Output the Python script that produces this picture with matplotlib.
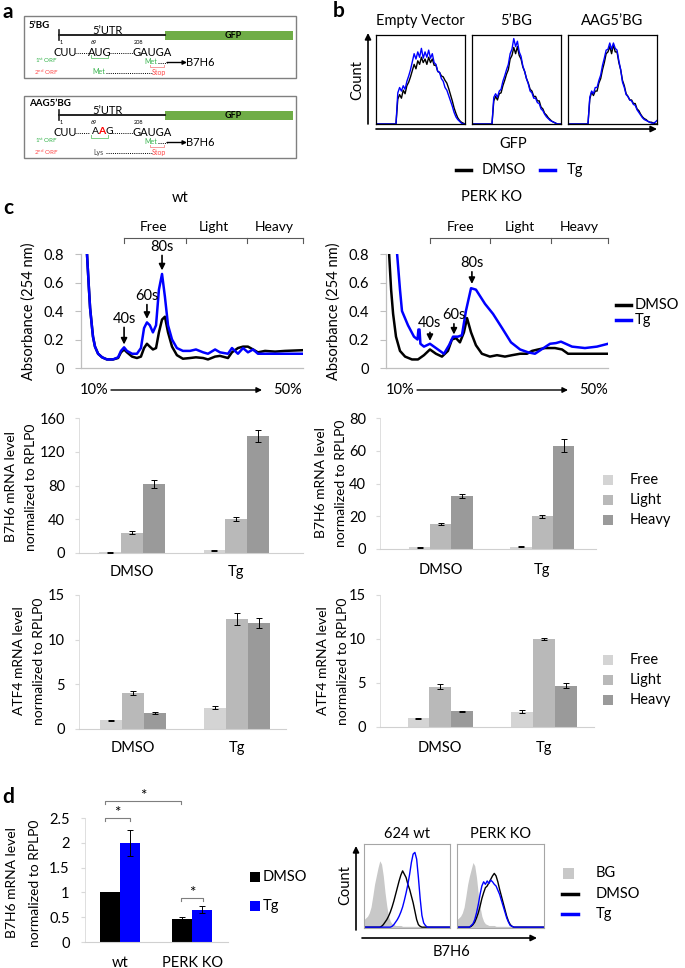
import matplotlib
matplotlib.use('Agg')
import matplotlib.pyplot as plt
from matplotlib.patches import Rectangle
import numpy as np

plt.rcParams['font.family'] = ['Lato', 'DejaVu Sans']
plt.rcParams['mathtext.default'] = 'regular'

# ---------------- DATA ----------------
# panel b : GFP histograms (50 bins), normalised height in box
gfp_bins = list(range(50))
ev_dmso = [0,0,0,0,0,0,0,0,0,0,0,0,0.28,0.33,0.29,0.38,0.34,0.43,0.47,0.53,0.6,0.67,0.62,0.71,0.67,0.75,0.69,0.73,0.67,0.75,0.69,0.73,0.66,0.66,0.59,0.58,0.54,0.53,0.49,0.46,0.4,0.33,0.26,0.18,0.12,0.07,0.04,0.02,0.01,0]
ev_tg = [0,0,0,0,0,0,0,0,0,0,0,0,0.35,0.41,0.37,0.43,0.39,0.48,0.54,0.61,0.7,0.79,0.73,0.81,0.75,0.85,0.74,0.81,0.75,0.83,0.74,0.79,0.69,0.67,0.59,0.58,0.51,0.48,0.41,0.38,0.32,0.26,0.2,0.13,0.08,0.05,0.03,0.01,0,0]
bg_dmso = [0,0,0,0,0,0,0,0,0,0,0,0,0.26,0.31,0.27,0.34,0.35,0.43,0.49,0.56,0.61,0.73,0.77,0.86,0.79,0.87,0.77,0.73,0.64,0.59,0.51,0.46,0.39,0.37,0.31,0.31,0.26,0.26,0.19,0.17,0.12,0.1,0.07,0.05,0.03,0.02,0.01,0,0,0]
bg_tg = [0,0,0,0,0,0,0,0,0,0,0,0,0.3,0.34,0.3,0.37,0.39,0.48,0.54,0.61,0.67,0.79,0.84,0.96,0.87,0.93,0.81,0.76,0.65,0.59,0.51,0.45,0.37,0.35,0.29,0.29,0.24,0.23,0.17,0.15,0.11,0.08,0.06,0.04,0.03,0.02,0.01,0,0,0]
aag_dmso = [0,0,0,0,0,0,0,0,0,0,0,0,0.28,0.36,0.32,0.37,0.37,0.46,0.51,0.61,0.69,0.79,0.81,0.87,0.79,0.89,0.81,0.81,0.69,0.61,0.49,0.43,0.34,0.31,0.27,0.27,0.23,0.23,0.17,0.15,0.11,0.08,0.06,0.05,0.03,0.02,0.02,0.01,0,0]
aag_tg = [0,0,0,0,0,0,0,0,0,0,0,0,0.3,0.37,0.34,0.41,0.41,0.49,0.55,0.66,0.74,0.83,0.84,0.91,0.84,0.91,0.85,0.83,0.71,0.61,0.47,0.41,0.33,0.31,0.27,0.26,0.22,0.21,0.16,0.13,0.1,0.07,0.05,0.04,0.03,0.02,0.01,0.01,0.02,0.04]
gfp_titles = ["Empty Vector", "5\u2019BG", "AAG5\u2019BG"]

# panel c : polysome profiles (position along gradient in %, absorbance)
wt_pos = [2.7,3.6,4.1,5.0,5.4,6.3,7.7,9.5,11.7,14.4,16.7,18.0,19.4,20.7,23.0,25.2,27.0,28.4,29.7,31.0,32.4,33.8,35.1,36.5,37.8,39.2,41.0,43.2,45.9,49.1,51.8,55.0,57.2,60.4,62.6,66.2,68.0,70.7,73.0,75.2,77.5,79.7,82.9,87.4,91.9,100]
wt_tg = [0.8,0.55,0.42,0.28,0.22,0.15,0.1,0.075,0.06,0.06,0.075,0.12,0.145,0.12,0.1,0.1,0.14,0.28,0.32,0.3,0.25,0.3,0.55,0.66,0.5,0.3,0.2,0.14,0.12,0.12,0.13,0.11,0.1,0.13,0.11,0.1,0.14,0.1,0.14,0.11,0.13,0.1,0.1,0.1,0.1,0.1]
wt_dmso = [0.8,0.55,0.42,0.28,0.22,0.15,0.1,0.075,0.06,0.06,0.07,0.11,0.13,0.11,0.08,0.07,0.08,0.14,0.17,0.15,0.13,0.14,0.25,0.34,0.36,0.25,0.15,0.09,0.065,0.07,0.075,0.07,0.06,0.08,0.085,0.07,0.11,0.14,0.15,0.15,0.13,0.11,0.12,0.115,0.12,0.125]
ko_dmso_pos = [1.4,2.3,3.2,4.5,6.3,8.6,11.7,14.4,17.1,19.8,22.5,25.2,27.9,29.7,31.5,33.3,35.1,36.5,38.3,40.5,43.2,46.8,50.0,53.6,56.8,60.4,63.5,65.8,68.5,71.6,76.1,79.3,82.0,87.4,100]
ko_dmso = [0.8,0.55,0.38,0.22,0.12,0.08,0.06,0.06,0.09,0.13,0.1,0.08,0.12,0.2,0.21,0.18,0.25,0.35,0.25,0.16,0.1,0.08,0.09,0.08,0.09,0.1,0.1,0.12,0.13,0.14,0.14,0.13,0.1,0.1,0.1]
ko_tg_pos = [5.0,6.3,7.2,9.9,12.6,14.2,14.6,15.1,15.5,17.1,19.8,22.5,26.1,28.4,30.2,32.4,34.2,36.0,38.3,40.5,44.6,48.2,52.3,56.3,60.4,64.0,67.1,70.0,73.9,76.6,78.8,83.8,89.6,95.0,100]
ko_tg = [0.8,0.55,0.4,0.3,0.22,0.2,0.27,0.27,0.17,0.15,0.17,0.14,0.1,0.16,0.22,0.22,0.23,0.4,0.56,0.55,0.45,0.38,0.28,0.18,0.13,0.11,0.1,0.13,0.17,0.175,0.185,0.15,0.14,0.15,0.17]
c_yticks = [0, 0.2, 0.4, 0.6, 0.8]
c_yticklabels = ['0', '0.2', '0.4', '0.6', '0.8']
fractions = ['Free', 'Light', 'Heavy']

# panel c : qPCR bars
treatments = ['DMSO', 'Tg']
b7_wt_dmso, b7_wt_dmso_err = [1.0, 24, 82], [0.5, 1.5, 5]
b7_wt_tg, b7_wt_tg_err = [3.0, 40, 139], [0.8, 2.5, 7]
b7_ko_dmso, b7_ko_dmso_err = [1.0, 15.5, 32.5], [0.3, 0.6, 1.3]
b7_ko_tg, b7_ko_tg_err = [1.3, 20, 63], [0.3, 1.0, 4]
atf_wt_dmso, atf_wt_dmso_err = [1.0, 4.05, 1.75], [0.05, 0.25, 0.1]
atf_wt_tg, atf_wt_tg_err = [2.4, 12.3, 11.9], [0.15, 0.65, 0.55]
atf_ko_dmso, atf_ko_dmso_err = [1.0, 4.6, 1.8], [0.05, 0.25, 0.05]
atf_ko_tg, atf_ko_tg_err = [1.75, 10.0, 4.7], [0.15, 0.15, 0.25]
b7_wt_ticks, b7_ko_ticks = [0, 40, 80, 120, 160], [0, 20, 40, 60, 80]
atf_ticks = [0, 5, 10, 15]

# panel d
d_groups = ['wt', 'PERK KO']
d_dmso, d_dmso_err = [1.0, 0.47], [0.005, 0.04]
d_tg, d_tg_err = [2.0, 0.65], [0.26, 0.07]
d_ticks = [0, 0.5, 1, 1.5, 2, 2.5]
d_ticklabels = ['0', '0.5', '1', '1.5', '2', '2.5']
b7h6_bins = list(range(50))
wt_bg = [0.1,0.12,0.14,0.18,0.25,0.38,0.52,0.62,0.72,0.8,0.76,0.62,0.42,0.26,0.14,0.08,0.05,0.04,0.03,0.03,0.03,0.03,0.02,0.02,0.02,0.02,0.02,0.02,0.02,0.02,0.02,0.02,0.02,0.02,0.02,0.02,0.02,0.02,0.02,0.02,0.01,0.01,0.01,0.01,0.01,0.01,0.01,0.01,0.01,0.01]
wt_dm = [0.01,0.01,0.01,0.01,0.01,0.01,0.01,0.01,0.01,0.01,0.02,0.04,0.07,0.1,0.14,0.19,0.25,0.32,0.4,0.48,0.56,0.63,0.68,0.64,0.6,0.52,0.46,0.38,0.3,0.2,0.1,0.04,0.02,0.01,0.01,0.01,0.01,0.01,0.01,0.01,0.01,0.01,0.01,0.01,0.01,0.01,0.01,0.01,0.01,0.01]
wt_tgh = [0.01,0.01,0.01,0.01,0.01,0.01,0.01,0.01,0.01,0.01,0.01,0.01,0.01,0.01,0.01,0.01,0.02,0.04,0.07,0.1,0.14,0.19,0.25,0.33,0.42,0.52,0.64,0.78,0.88,0.9,0.82,0.6,0.35,0.15,0.06,0.03,0.01,0.01,0.01,0.01,0.01,0.01,0.01,0.01,0.01,0.01,0.01,0.01,0.01,0.01]
ko_bg = [0.1,0.12,0.14,0.18,0.25,0.38,0.52,0.62,0.7,0.78,0.74,0.6,0.4,0.25,0.14,0.08,0.05,0.04,0.03,0.03,0.03,0.03,0.02,0.02,0.02,0.02,0.02,0.02,0.02,0.02,0.02,0.02,0.02,0.02,0.02,0.02,0.02,0.02,0.02,0.02,0.01,0.01,0.01,0.01,0.01,0.01,0.01,0.01,0.01,0.01]
ko_dm = [0.01,0.01,0.01,0.01,0.01,0.01,0.01,0.01,0.02,0.04,0.07,0.12,0.18,0.26,0.35,0.42,0.48,0.5,0.54,0.58,0.62,0.65,0.62,0.55,0.46,0.38,0.3,0.22,0.14,0.08,0.04,0.02,0.01,0.01,0.01,0.01,0.01,0.01,0.01,0.01,0.01,0.01,0.01,0.01,0.01,0.01,0.01,0.01,0.01,0.01]
ko_tgh = [0.01,0.01,0.01,0.01,0.01,0.01,0.01,0.01,0.03,0.05,0.1,0.18,0.28,0.4,0.5,0.55,0.52,0.56,0.53,0.57,0.55,0.52,0.5,0.45,0.4,0.33,0.26,0.19,0.12,0.07,0.03,0.02,0.01,0.01,0.01,0.01,0.01,0.01,0.01,0.01,0.01,0.01,0.01,0.01,0.01,0.01,0.01,0.01,0.01,0.01]

# ---------------- STYLE ----------------
BLUE = '#0000FF'
FRAC_COLORS = ['#D4D4D4', '#B9B9B9', '#9A9A9A']
W, H = 685, 968
fig = plt.figure(figsize=(W / 100, H / 100), dpi=100)
renderer = fig.canvas.get_renderer()


def axpx(l, t, r, b):
    return fig.add_axes([l / W, 1 - b / H, (r - l) / W, (b - t) / H])


ov = fig.add_axes([0, 0, 1, 1], zorder=10)
ov.set_xlim(0, W)
ov.set_ylim(H, 0)
ov.axis('off')


def T(x, y, s, size=10, **kw):
    kw.setdefault('ha', 'center')
    kw.setdefault('va', 'center')
    return ov.text(x, y, s, fontsize=size, **kw)


def chain(x, y, parts, size):
    """place text pieces one after the other, starting at x"""
    for s, c, w in parts:
        t = ov.text(x, y, s, fontsize=size, color=c, fontweight=w, ha='left', va='center')
        bb = t.get_window_extent(renderer)
        x = ov.transData.inverted().transform((bb.x1, bb.y0))[0]


def arrow(x1, y1, x2, y2, lw=1.2, ms=9):
    ov.annotate('', xy=(x2, y2), xytext=(x1, y1),
                arrowprops=dict(arrowstyle='-|>', color='k', lw=lw,
                                mutation_scale=ms, shrinkA=0, shrinkB=0))


# ---------------- PANEL LABELS ----------------
for lab, x, y in [('a', 8, 12), ('b', 339, 11), ('c', 8, 208), ('d', 8, 797)]:
    T(x, y, lab, 15, fontweight='bold')

# ---------------- PANEL A ----------------
GREEN_T = '#33b24a'
GREEN_B = '#7dcf86'
RED_T = '#ff4a4a'
RED_B = '#f59a9a'


def dotted(x1, x2, y, color='k'):
    ov.plot([x1, x2], [y, y], color=color, lw=0.7, ls=(0, (1, 1.2)))


def ubracket(x1, x2, y, color, h=2.5):
    ov.plot([x1, x1, x2, x2], [y - h, y, y, y - h], color=color, lw=0.7)


for k, dy in enumerate([0, 80]):
    ov.add_patch(Rectangle((24, 16 + dy), 272, 62, fill=False, ec='#808080', lw=1))
    T(29, 25 + dy - (1 if k else 0), '5\u2019BG' if k == 0 else 'AAG5\u2019BG', 7,
      fontweight='bold', ha='left')
    ov.plot([59, 165], [35 + dy, 35 + dy], color='#222222', lw=1.4)
    ov.plot([59, 59], [30 + dy, 40 + dy], color='#222222', lw=1.2)
    T(107, 31 + dy, '5\u2019UTR', 8)
    ov.add_patch(Rectangle((165, 30.5 + dy), 128, 9.5, color='#70AD47', lw=0))
    T(233, 35.5 + dy, 'GFP', 6.5, fontweight='bold')
    T(61, 43 + dy, '1', 4)
    T(94, 43 + dy, '69', 4)
    T(139, 43 + dy, '208', 4)
    T(65.5, 52 + dy, 'CUU', 8)
    dotted(75, 89, 53 + dy)
    if k == 0:
        T(99.5, 52 + dy, 'AUG', 8)
    else:
        chain(91.5, 52 + dy, [('A', 'k', 'normal'), ('A', '#ff0000', 'bold'),
                              ('G', 'k', 'normal')], 7.5)
    dotted(110, 135, 53 + dy)
    T(152, 52 + dy, 'GAUGA', 8)
    ubracket(91, 108, 57.5 + dy, GREEN_B)
    T(35, 61 + dy, r'1$^{st}$ ORF', 4.5, color=GREEN_T, ha='left')
    T(151, 62 + dy, 'Met', 5, color=GREEN_T)
    dotted(158, 167, 62.5 + dy)
    arrow(167, 62.5 + dy, 187, 62.5 + dy, lw=1, ms=6)
    T(200, 62 + dy, 'B7H6', 8)
    ubracket(150, 164, 67 + dy, RED_B)
    T(34, 72 + dy, r'2$^{nd}$ ORF', 4.5, color=RED_T, ha='left')
    if k == 0:
        T(98.5, 72 + dy, 'Met', 5, color=GREEN_T)
    else:
        T(98, 72 + dy, 'Lys', 5, color='#444444')
    dotted(106, 152, 72.5 + dy)
    T(159, 72 + dy, 'Stop', 5, color=RED_T)

# ---------------- PANEL B ----------------
gfp_series = [(ev_dmso, ev_tg), (bg_dmso, bg_tg), (aag_dmso, aag_tg)]
for (l, r), title, (dm, tg) in zip([(376, 465), (472, 561), (568, 657)], gfp_titles, gfp_series):
    ax = axpx(l, 35, r, 124)
    ax.plot(gfp_bins, dm, color='k', lw=1.0)
    ax.plot(gfp_bins, tg, color=BLUE, lw=1.0)
    ax.set_xlim(0, 49)
    ax.set_ylim(0, 1)
    ax.set_xticks([])
    ax.set_yticks([])
    for s in ax.spines.values():
        s.set_linewidth(0.9)
    T((l + r) / 2, 21, title, 10.5)
arrow(368, 124, 368, 33)
arrow(376, 129, 657, 129)
T(357, 80, 'Count', 10.5, rotation=90)
T(513, 144, 'GFP', 10.5)
ov.plot([456, 471], [170, 170], color='k', lw=2.5)
T(482, 170, 'DMSO', 10.5, ha='left')
ov.plot([540, 555], [170, 170], color=BLUE, lw=2.5)
T(567, 170, 'Tg', 10.5, ha='left')

# ---------------- PANEL C : profiles ----------------
def style_profile(ax):
    ax.set_xlim(0, 100)
    ax.set_ylim(0, 0.8)
    for s in ['top', 'right']:
        ax.spines[s].set_visible(False)
    for s in ['left', 'bottom']:
        ax.spines[s].set_color('#bfbfbf')
        ax.spines[s].set_linewidth(0.9)
    ax.set_xticks([])
    ax.set_yticks(c_yticks)
    ax.set_yticklabels(c_yticklabels, fontsize=10.5)
    ax.tick_params(axis='y', length=4, color='#bfbfbf', pad=8)
    ax.patch.set_alpha(0)


ax = axpx(81, 254, 303, 368)
ax.plot(wt_pos, wt_dmso, color='k', lw=1.8)
ax.plot(wt_pos, wt_tg, color=BLUE, lw=1.8)
style_profile(ax)
for name, x, ytxt, y1, y2 in [('40s', 19.4, 0.295, 0.285, 0.165),
                              ('60s', 29.7, 0.455, 0.445, 0.345),
                              ('80s', 36.5, 0.80, 0.79, 0.685)]:
    ax.text(x, ytxt, name, ha='center', va='bottom', fontsize=10.5, clip_on=False)
    ax.annotate('', xy=(x, y2), xytext=(x, y1),
                arrowprops=dict(arrowstyle='-|>', color='k', lw=1.2, mutation_scale=9,
                                shrinkA=0, shrinkB=0), annotation_clip=False)

ax = axpx(386, 254, 608, 368)
ax.plot(ko_dmso_pos, ko_dmso, color='k', lw=1.8)
ax.plot(ko_tg_pos, ko_tg, color=BLUE, lw=1.8)
style_profile(ax)
for name, x, ytxt, y1, y2 in [('40s', 19.8, 0.265, 0.25, 0.19),
                              ('60s', 30.6, 0.325, 0.31, 0.235),
                              ('80s', 38.7, 0.69, 0.675, 0.59)]:
    ax.text(x, ytxt, name, ha='center', va='bottom', fontsize=10.5, clip_on=False)
    ax.annotate('', xy=(x, y2), xytext=(x, y1),
                arrowprops=dict(arrowstyle='-|>', color='k', lw=1.2, mutation_scale=9,
                                shrinkA=0, shrinkB=0), annotation_clip=False)

T(180, 198, 'wt', 10.5)
T(492, 197, 'PERK KO', 10.5)
for ticks, labx in [((124, 186, 247, 303), (154, 214, 274)),
                    ((430, 490, 551, 608), (461, 520, 579))]:
    ov.plot([ticks[0], ticks[-1]], [238, 238], color='#595959', lw=0.8)
    for tx in ticks:
        ov.plot([tx, tx], [238, 243], color='#595959', lw=0.8)
    for lx, f in zip(labx, fractions):
        T(lx, 227, f, 10)
for x0, a1, a2, x1 in [(94, 111, 262, 288), (400, 417, 568, 594)]:
    T(x0, 390, '10%', 10.5)
    arrow(a1, 390, a2, 390, lw=1.0, ms=8)
    T(x1, 390, '50%', 10.5)
T(29, 311, 'Absorbance (254 nm)', 10.5, rotation=90)
T(334, 311, 'Absorbance (254 nm)', 10.5, rotation=90)
ov.plot([616, 631], [305, 305], color='k', lw=2.5)
T(635, 305, 'DMSO', 10.5, ha='left')
ov.plot([616, 631], [320, 320], color=BLUE, lw=2.5)
T(635, 320, 'Tg', 10.5, ha='left')

# ---------------- PANEL C : bar charts ----------------
BW = 0.21


def bar_panel(box, xlim, ylim, yticks, dm, dme, tg, tge, pad_px):
    ax = axpx(*box)
    x = np.arange(len(treatments))
    for i in range(3):
        vals = [dm[i], tg[i]]
        errs = [dme[i], tge[i]]
        xi = x + (i - 1) * BW
        ax.bar(xi, vals, width=BW, color=FRAC_COLORS[i], edgecolor='none', zorder=2)
        ax.errorbar(xi, vals, yerr=errs, fmt='none', ecolor='k', elinewidth=0.7,
                    capsize=2.2, capthick=0.7, zorder=3)
    ax.set_xlim(*xlim)
    ax.set_ylim(*ylim)
    ax.set_yticks(yticks)
    ax.set_yticklabels([str(t) for t in yticks], fontsize=10.5)
    ax.set_xticks(x)
    ax.set_xticklabels(treatments, fontsize=10.5)
    for s in ['top', 'right']:
        ax.spines[s].set_visible(False)
    ax.spines['bottom'].set_color('#d0d0d0')
    ax.spines['left'].set_color('#d9d9d9')
    ax.spines['left'].set_linewidth(0.6)
    ax.tick_params(axis='x', length=0, pad=pad_px * 0.72)
    ax.tick_params(axis='y', length=3, color='#d9d9d9', pad=7)
    ax.patch.set_alpha(0)
    return ax


bar_panel((79, 418, 303, 553), (-0.51, 1.64), (0, 160), b7_wt_ticks,
          b7_wt_dmso, b7_wt_dmso_err, b7_wt_tg, b7_wt_tg_err, 12)
bar_panel((380, 418, 596, 549), (-0.6, 1.53), (0, 80), b7_ko_ticks,
          b7_ko_dmso, b7_ko_dmso_err, b7_ko_tg, b7_ko_tg_err, 14)
bar_panel((79, 595, 286, 729), (-0.52, 1.47), (0, 15), atf_ticks,
          atf_wt_dmso, atf_wt_dmso_err, atf_wt_tg, atf_wt_tg_err, 12)
bar_panel((380, 595, 594, 727), (-0.58, 1.48), (0, 15), atf_ticks,
          atf_ko_dmso, atf_ko_dmso_err, atf_ko_tg, atf_ko_tg_err, 14)

for x1, x2, yc, gene in [(11, 31, 487, 'B7H6'), (321, 341, 483, 'B7H6'),
                         (19, 39, 661, 'ATF4'), (323, 343, 661, 'ATF4')]:
    T(x1, yc, gene + ' mRNA level', 10, rotation=90)
    T(x2, yc, 'normalized to RPLP0', 10, rotation=90)
for y0 in [480, 660]:
    for j, f in enumerate(fractions):
        yy = y0 + 20 * j
        ov.add_patch(Rectangle((603, yy - 5), 10, 10, color=FRAC_COLORS[j], lw=0))
        T(630, yy, f, 10.5, ha='left')

# ---------------- PANEL D : bars ----------------
ax = axpx(85, 818, 228, 942)
xd = np.arange(len(d_groups))
DBW = 0.28
ax.bar(xd - DBW / 2, d_dmso, width=DBW, color='k', zorder=2)
ax.bar(xd + DBW / 2, d_tg, width=DBW, color=BLUE, zorder=2)
ax.errorbar(xd - DBW / 2, d_dmso, yerr=d_dmso_err, fmt='none', ecolor='k',
            elinewidth=0.7, capsize=2.2, capthick=0.7, zorder=3)
ax.errorbar(xd + DBW / 2, d_tg, yerr=d_tg_err, fmt='none', ecolor='k',
            elinewidth=0.7, capsize=2.2, capthick=0.7, zorder=3)
ax.set_xlim(-0.49, 1.5)
ax.set_ylim(0, 2.5)
ax.set_yticks(d_ticks)
ax.set_yticklabels(d_ticklabels, fontsize=10.5)
ax.set_xticks(xd)
ax.set_xticklabels(d_groups, fontsize=10.5)
for s in ['top', 'right']:
    ax.spines[s].set_visible(False)
ax.spines['bottom'].set_color('#d0d0d0')
ax.spines['left'].set_color('#d9d9d9')
ax.spines['left'].set_linewidth(0.6)
ax.tick_params(axis='x', length=0, pad=10)
ax.tick_params(axis='y', length=3, color='#d9d9d9', pad=8)
ax.patch.set_alpha(0)
T(12, 883, 'B7H6 mRNA level', 10, rotation=90)
T(35, 883, 'normalized to RPLP0', 10, rotation=90)
for x1, x2, yb, ys in [(105, 130, 818, 811), (105, 181, 801, 794), (181, 203, 898, 891)]:
    ov.plot([x1, x1, x2, x2], [yb + 3, yb, yb, yb + 3], color='#7f7f7f', lw=0.8)
    T((x1 + x2) / 2, ys + 2, '*', 11)
ov.add_patch(Rectangle((250, 872), 10, 10, color='k', lw=0))
T(263, 877, 'DMSO', 10.5, ha='left')
ov.add_patch(Rectangle((250, 901), 10, 10, color=BLUE, lw=0))
T(263, 906, 'Tg', 10.5, ha='left')

# ---------------- PANEL D : histograms ----------------
for (l, r), title, (bgv, dm, tg) in zip([(364, 450), (457, 544)], ['624 wt', 'PERK KO'],
                                        [(wt_bg, wt_dm, wt_tgh), (ko_bg, ko_dm, ko_tgh)]):
    ax = axpx(l, 844, r, 928)
    ax.fill_between(b7h6_bins, 0, bgv, color='#c8c8c8', lw=0)
    ax.plot(b7h6_bins, dm, color='k', lw=1.0)
    ax.plot(b7h6_bins, tg, color=BLUE, lw=1.0)
    ax.set_xlim(0, 49)
    ax.set_ylim(0, 1)
    ax.set_xticks([])
    ax.set_yticks([])
    for s in ax.spines.values():
        s.set_color('#a6a6a6')
        s.set_linewidth(0.8)
    T((l + r) / 2, 834, title, 10.5)
arrow(356, 930, 356, 846)
arrow(362, 938, 537, 938)
T(345, 885, 'Count', 10.5, rotation=90)
T(452, 952, 'B7H6', 10.5)
ov.add_patch(Rectangle((563, 868), 11, 11, color='#c8c8c8', lw=0))
T(596, 873, 'BG', 10.5, ha='left')
ov.plot([562, 578], [894, 894], color='k', lw=2.5)
T(596, 894, 'DMSO', 10.5, ha='left')
ov.plot([562, 578], [914, 914], color=BLUE, lw=2.5)
T(596, 914, 'Tg', 10.5, ha='left')

fig.savefig('out.png', dpi=100)
